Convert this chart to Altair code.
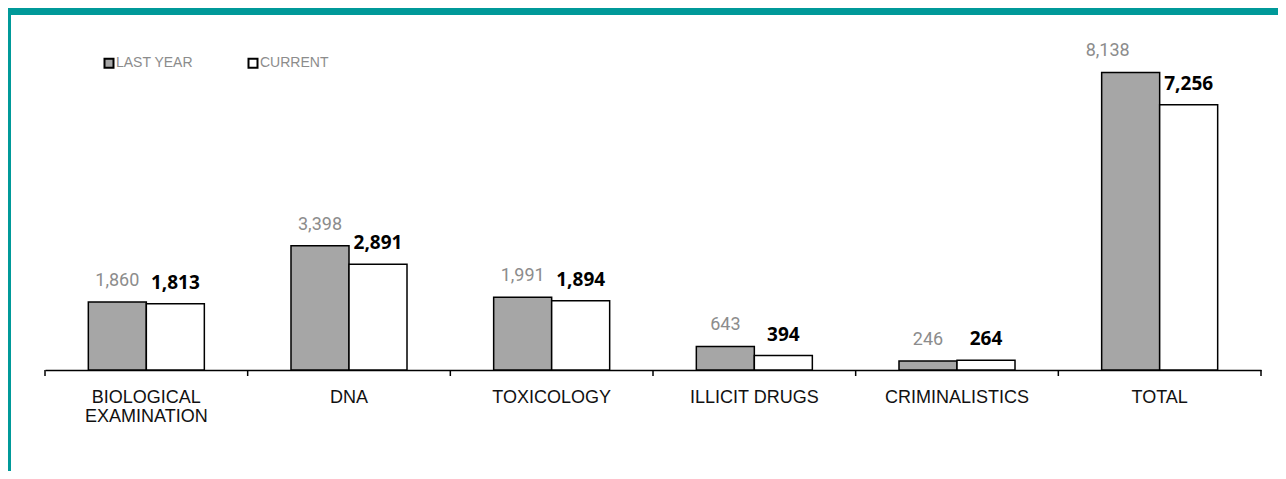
import altair as alt
import pandas as pd

categories = ["BIOLOGICAL EXAMINATION", "DNA", "TOXICOLOGY", "ILLICIT DRUGS", "CRIMINALISTICS", "TOTAL"]
last_year = [1860, 3398, 1991, 643, 246, 8138]
current = [1813, 2891, 1894, 394, 264, 7256]
series = ["LAST YEAR", "CURRENT"]

rows = []
for c, a, b in zip(categories, last_year, current):
    rows.append({"category": c, "series": series[0], "value": a})
    rows.append({"category": c, "series": series[1], "value": b})
df = pd.DataFrame(rows)
cat_df = pd.DataFrame({"category": categories})
one = pd.DataFrame({"k": [0]})

W, H = 1216, 329
PL, PT, PR, PB = 37, 33, 17, 101
TEAL = "#009999"

xaxis = alt.Axis(
    title=None, ticks=False, labelAngle=0, labelFont="Liberation Sans", labelFontSize=18,
    labelColor="#111111", labelPadding=18, labelLineHeight=19, domainColor="black",
    domainWidth=1.5,
    labelExpr="datum.label == 'BIOLOGICAL EXAMINATION' ? ['BIOLOGICAL', 'EXAMINATION'] : datum.label",
)
xscale = alt.Scale(paddingInner=0, paddingOuter=0)
x = alt.X("category:N", sort=categories, scale=xscale, axis=xaxis)
xo = alt.XOffset("series:N", sort=series, scale=alt.Scale(domain=series, paddingInner=0, paddingOuter=0.747))
y = alt.Y("value:Q", scale=alt.Scale(domain=[0, 9000]), axis=None)

base = alt.Chart(df)

bars = base.mark_bar(stroke="black", strokeWidth=1.5).encode(
    x=x, xOffset=xo, y=y,
    fill=alt.Fill(
        "series:N", sort=series,
        scale=alt.Scale(domain=series, range=["#A6A6A6", "#FFFFFF"]),
        legend=alt.Legend(
            title=None, orient="none", legendX=57, legendY=15, direction="horizontal",
            symbolType="square", symbolSize=81, symbolStrokeColor="black", symbolStrokeWidth=2,
            labelFont="Liberation Sans", labelFontSize=14, labelColor="#8C8C8C",
            labelOffset=0, columnPadding=50,
        ),
    ),
)

lab_last = base.transform_filter(
    (alt.datum.series == "LAST YEAR") & (alt.datum.category != "TOTAL")
).mark_text(font="Roboto", fontSize=18, color="#8C8C8C", baseline="middle", dy=-21).encode(
    x=x, xOffset=xo, y=y, text=alt.Text("value:Q", format=",")
)
lab_last_total = base.transform_filter(
    (alt.datum.series == "LAST YEAR") & (alt.datum.category == "TOTAL")
).mark_text(font="Roboto", fontSize=18, color="#8C8C8C", baseline="middle", dy=-22, dx=-23).encode(
    x=x, xOffset=xo, y=y, text=alt.Text("value:Q", format=",")
)
lab_cur = base.transform_filter(alt.datum.series == "CURRENT").mark_text(
    font="Open Sans", fontSize=19, fontWeight="bold", color="#000000", baseline="middle", dy=-21
).encode(x=x, xOffset=xo, y=y, text=alt.Text("value:Q", format=","))

ticks = alt.Chart(cat_df).mark_rule(color="black", strokeWidth=1.5).encode(
    x=alt.X("category:N", sort=categories, scale=xscale, axis=xaxis, bandPosition=0),
    y=alt.value(H), y2=alt.value(H + 6),
)
last_tick = alt.Chart(one).mark_rule(color="black", strokeWidth=1.5).encode(
    x=alt.value(W), y=alt.value(H), y2=alt.value(H + 6)
)

top_bar = alt.Chart(one).mark_rect(color=TEAL).encode(
    x=alt.value(-PL), x2=alt.value(W + PR), y=alt.value(-PT), y2=alt.value(-PT + 7)
)
left_bar = alt.Chart(one).mark_rect(color=TEAL).encode(
    x=alt.value(-PL), x2=alt.value(-PL + 3), y=alt.value(-PT), y2=alt.value(H + PB)
)

chart = alt.layer(
    top_bar, left_bar, bars, ticks, last_tick, lab_last, lab_last_total, lab_cur
).properties(
    width=W, height=H, autosize="none",
    padding={"left": PL, "top": PT, "right": PR, "bottom": PB},
    background="white",
).configure_view(stroke=None)

chart.save("out.html", embed_options={"renderer": "svg", "actions": False})
